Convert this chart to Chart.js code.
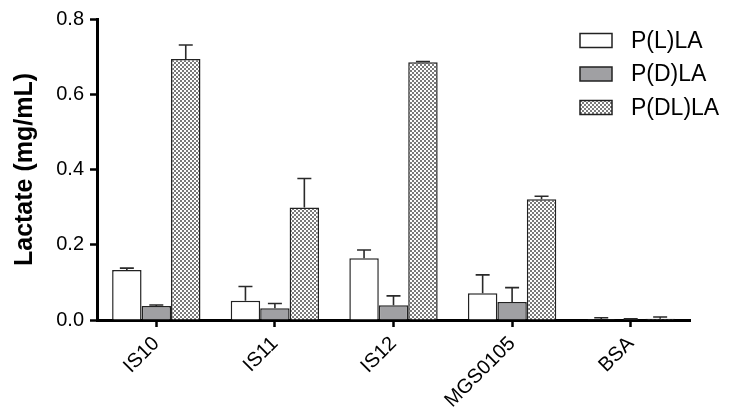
<!DOCTYPE html>
<html>
<head>
<meta charset="utf-8">
<script src="https://cdn.jsdelivr.net/npm/chart.js@4"></script>
<style>
  html, body { margin: 0; padding: 0; background: #fff; }
  #wrap { width: 731px; height: 409px; }
</style>
</head>
<body>
<div id="wrap"><canvas id="lactateChart"></canvas></div>
<script>
// Chart data
const categories = ['IS10', 'IS11', 'IS12', 'MGS0105', 'BSA'];
const seriesNames = ['P(L)LA', 'P(D)LA', 'P(DL)LA'];
const pllaValues = [0.133, 0.051, 0.164, 0.071, 0.002];
const pllaErrors = [0.005, 0.038, 0.022, 0.049, 0.004];
const pdlaValues = [0.037, 0.031, 0.039, 0.048, 0.001];
const pdlaErrors = [0.003, 0.013, 0.025, 0.038, 0.002];
const pdllaValues = [0.694, 0.299, 0.685, 0.321, 0.003];
const pdllaErrors = [0.037, 0.077, 0.002, 0.008, 0.005];
const yTicks = [0, 0.2, 0.4, 0.6, 0.8];

const FONT = '"Liberation Sans", Arial, Helvetica, sans-serif';

// Checkerboard fill for the P(DL)LA bars
function makeChecker() {
    const c = document.createElement('canvas');
    c.width = 4;
    c.height = 4;
    const g = c.getContext('2d');
    g.fillStyle = '#ffffff';
    g.fillRect(0, 0, 4, 4);
    g.fillStyle = '#7a7a7a';
    g.fillRect(0, 0, 2, 2);
    g.fillRect(2, 2, 2, 2);
    return g.createPattern(c, 'repeat');
}
const checker = makeChecker();

const fills = ['#ffffff', '#a0a0a3', checker];

// Upward error bars with caps
const errorBars = {
    id: 'errorBars',
    afterDatasetsDraw(chart) {
        const ctx = chart.ctx;
        const y = chart.scales.y;
        ctx.save();
        ctx.strokeStyle = '#2a2a2a';
        ctx.lineWidth = 1.6;
        chart.data.datasets.forEach((ds, di) => {
            const meta = chart.getDatasetMeta(di);
            meta.data.forEach((bar, i) => {
                const top = y.getPixelForValue(ds.data[i] + ds.errors[i]);
                const base = y.getPixelForValue(ds.data[i]);
                ctx.beginPath();
                ctx.moveTo(bar.x, base);
                ctx.lineTo(bar.x, top);
                ctx.moveTo(bar.x - 7, top);
                ctx.lineTo(bar.x + 7, top);
                ctx.stroke();
            });
        });
        ctx.restore();
    }
};

// Legend placed in the upper right like the original figure
const boxLegend = {
    id: 'boxLegend',
    afterDraw(chart) {
        const ctx = chart.ctx;
        ctx.save();
        chart.data.datasets.forEach((ds, i) => {
            const cy = 40.5 + i * 33.5;
            ctx.fillStyle = ds.backgroundColor;
            ctx.fillRect(580, cy - 7, 32, 14);
            ctx.strokeStyle = '#222';
            ctx.lineWidth = 1.5;
            ctx.strokeRect(580, cy - 7, 32, 14);
            ctx.fillStyle = '#000';
            ctx.font = '23px ' + FONT;
            ctx.textBaseline = 'middle';
            ctx.textAlign = 'left';
            ctx.fillText(ds.label, 631, cy + 1);
        });
        ctx.restore();
    }
};

const datasets = [pllaValues, pdlaValues, pdllaValues].map((vals, i) => ({
    label: seriesNames[i],
    data: vals,
    errors: [pllaErrors, pdlaErrors, pdllaErrors][i],
    backgroundColor: fills[i],
    borderColor: '#222',
    borderWidth: 1.5,
    categoryPercentage: 0.745,
    barPercentage: 1.0
}));

new Chart(document.getElementById('lactateChart'), {
    type: 'bar',
    data: { labels: categories, datasets: datasets },
    plugins: [errorBars, boxLegend],
    options: {
        responsive: true,
        maintainAspectRatio: false,
        animation: false,
        layout: { padding: { top: 19, right: 41, left: 0, bottom: 0 } },
        plugins: {
            legend: { display: false },
            tooltip: { enabled: false }
        },
        scales: {
            x: {
                afterFit: (s) => { s.height = 89; },
                grid: {
                    offset: false,
                    drawOnChartArea: false,
                    tickLength: 7,
                    tickWidth: 2.5,
                    tickColor: '#000'
                },
                border: { display: true, color: '#000', width: 3 },
                ticks: {
                    color: '#000',
                    font: { family: FONT, size: 20 },
                    maxRotation: 45,
                    minRotation: 45,
                    padding: 5
                }
            },
            y: {
                min: 0,
                max: 0.8,
                afterFit: (s) => { s.width = 97; },
                afterBuildTicks: (s) => { s.ticks = yTicks.map(v => ({ value: v })); },
                grid: {
                    drawOnChartArea: false,
                    tickLength: 7,
                    tickWidth: 2.5,
                    tickColor: '#000'
                },
                border: { display: true, color: '#000', width: 3 },
                ticks: {
                    color: '#000',
                    font: { family: FONT, size: 20 },
                    padding: 6,
                    callback: (v) => Number(v).toFixed(1)
                },
                title: {
                    display: true,
                    text: 'Lactate (mg/mL)',
                    color: '#000',
                    font: { family: FONT, size: 25, weight: 'bold' },
                    padding: { top: 10, bottom: 0 }
                }
            }
        }
    }
});
</script>
</body>
</html>
